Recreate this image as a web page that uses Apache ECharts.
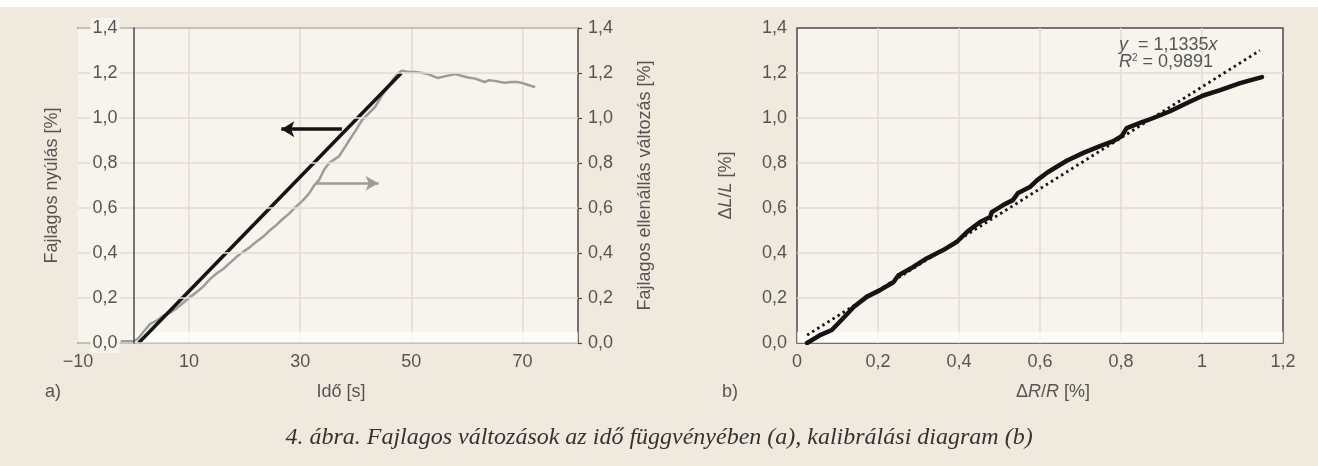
<!DOCTYPE html>
<html><head><meta charset="utf-8">
<script src="https://cdn.jsdelivr.net/npm/echarts@6/dist/echarts.min.js"></script>
<style>html,body{margin:0;padding:0;background:#f0e9de}#c{width:1318px;height:466px}</style>
</head><body><div id="c"></div>
<script>
// ---- panel a) data ----
const timeBlack = [0.9, 48.2];
const strainBlack = [0, 1.2];
const timeGray = [-2.3,-1,0,0.8,1.8,3.0,4.2,5.4,6.6,7.8,9.0,10.2,11.3,12.5,13.8,15.0,16.2,17.3,18.5,19.7,20.9,22.1,23.3,24.5,25.6,26.8,28.0,29.2,30.4,31.6,32.5,33.4,34.3,35.2,36.1,37.0,37.9,38.8,40.0,41.1,42.3,43.5,44.7,45.9,46.8,47.7,48.3,49.5,50.7,52,53,54,54.8,56,57.9,59,60.2,61.5,62.3,63.2,64,65,66,66.8,68,69.1,70,70.9,71.6,72.3];
const resistGray = [0.008,0.008,0.008,0.02,0.05,0.085,0.10,0.122,0.135,0.155,0.18,0.205,0.225,0.25,0.285,0.31,0.33,0.355,0.382,0.405,0.425,0.45,0.472,0.50,0.522,0.55,0.575,0.605,0.632,0.665,0.70,0.725,0.77,0.80,0.815,0.83,0.865,0.90,0.945,0.99,1.02,1.05,1.10,1.14,1.175,1.20,1.21,1.205,1.205,1.20,1.195,1.185,1.178,1.185,1.195,1.188,1.18,1.175,1.168,1.16,1.168,1.165,1.16,1.157,1.16,1.16,1.155,1.148,1.142,1.138];
const arrowBlack = [[37.5, 0.95], [26.6, 0.95]];
const arrowGray = [[32.9, 0.71], [44.1, 0.71]];
const xTicksA = {'-10':'\u221210','10':'10','30':'30','50':'50','70':'70'};
const yTicks = {'0':'0,0','0.2':'0,2','0.4':'0,4','0.6':'0,6','0.8':'0,8','1':'1,0','1.2':'1,2','1.4':'1,4'};

// ---- panel b) data ----
const calibX = [0.025,0.057,0.086,0.114,0.14,0.172,0.205,0.238,0.25,0.286,0.32,0.361,0.395,0.42,0.452,0.477,0.481,0.509,0.533,0.546,0.575,0.593,0.62,0.666,0.707,0.748,0.781,0.802,0.814,0.847,0.88,0.921,0.963,1.003,1.045,1.094,1.148];
const calibY = [0.0,0.035,0.058,0.11,0.16,0.205,0.235,0.27,0.30,0.337,0.376,0.413,0.45,0.494,0.538,0.56,0.582,0.613,0.635,0.667,0.693,0.724,0.76,0.81,0.845,0.875,0.897,0.92,0.955,0.978,1.0,1.03,1.067,1.10,1.124,1.155,1.182];
const trendX = [0.025, 1.143];
const trendY = [0.035, 1.30];
const xTicksB = {'0':'0','0.2':'0,2','0.4':'0,4','0.6':'0,6','0.8':'0,8','1':'1','1.2':'1,2'};

const zip = (a, b) => a.map((v, i) => [v, b[i]]);
const key = v => String(Math.round(v * 1000) / 1000);
const FONT = "Liberation Sans, Arial, sans-serif";
const TXT = '#555';
const AX = '#4a4a4a';
const GRIDC = '#e1dcd3';
const PLOT = '#f7f4ee';
const BAND = 'rgba(255,255,255,0.7)';
const FS = 18;

// left panel geometry: x range -10..80, y axis drawn at x = 0
const A_LEFT = 78, A_WIDTH = 500, A_MIN = -10, A_MAX = 80;
const Y_AXIS_OFFSET = -(0 - A_MIN) / (A_MAX - A_MIN) * A_WIDTH;

const chart = echarts.init(document.getElementById('c'), null, {renderer: 'canvas'});
const splitL = {show: true, showMinLine: false, showMaxLine: false, lineStyle: {color: GRIDC, width: 1.5}};
const italicRich = {i: {fontStyle: 'italic', fontSize: FS, color: TXT, fontFamily: FONT}};

chart.setOption({
  animation: false,
  backgroundColor: '#f0e9de',
  textStyle: {fontFamily: FONT},
  grid: [
    {left: A_LEFT, top: 28, width: A_WIDTH, height: 315, show: true, backgroundColor: PLOT, borderWidth: 0,
     containLabel: false, outerBoundsMode: 'none'},
    {left: 797, top: 28, width: 486, height: 315, show: true, backgroundColor: PLOT, borderColor: AX, borderWidth: 1.5,
     containLabel: false, outerBoundsMode: 'none'}
  ],
  xAxis: [
    {gridIndex: 0, type: 'value', min: A_MIN, max: A_MAX, interval: 20,
     axisLine: {onZero: false, lineStyle: {color: AX, width: 1.5}}, axisTick: {show: false},
     splitLine: splitL,
     axisLabel: {color: TXT, fontSize: FS, margin: 10, showMaxLabel: false, formatter: v => xTicksA[key(v)] || ''},
     name: '{n|Idő [s]}', nameLocation: 'middle', nameGap: 40,
     nameTextStyle: {color: TXT, fontSize: FS, rich: {n: {fontSize: FS, color: TXT, fontFamily: FONT, padding: [0, 0, 0, 26]}}}},
    {gridIndex: 0, type: 'value', position: 'top', min: A_MIN, max: A_MAX,
     axisLine: {onZero: false, lineStyle: {color: AX, width: 1.5}}, axisTick: {show: false},
     axisLabel: {show: false}, splitLine: {show: false}},
    {gridIndex: 1, type: 'value', min: 0, max: 1.2, interval: 0.2,
     axisLine: {show: false, onZero: false}, axisTick: {show: false},
     splitLine: splitL,
     axisLabel: {color: TXT, fontSize: FS, margin: 10, formatter: v => xTicksB[key(v)] || ''},
     name: 'Δ{i|R}/{i|R} [%]', nameLocation: 'middle', nameGap: 40,
     nameTextStyle: {color: TXT, fontSize: FS, padding: [0, 0, 0, 26], rich: italicRich}}
  ],
  yAxis: [
    {gridIndex: 0, type: 'value', min: 0, max: 1.4, interval: 0.2, position: 'left', offset: Y_AXIS_OFFSET, z: 5,
     axisLine: {show: true, onZero: false, lineStyle: {color: AX, width: 1.5}}, axisTick: {show: false},
     splitLine: {show: true, lineStyle: {color: GRIDC, width: 1.5}},
     axisLabel: {color: TXT, fontSize: FS, margin: 14, backgroundColor: PLOT, padding: [1, 2, 1, 2],
                 formatter: v => yTicks[key(v)] || ''},
     name: 'Fajlagos nyúlás [%]', nameLocation: 'middle', nameGap: 73, nameRotate: 90,
     nameTextStyle: {color: TXT, fontSize: FS}},
    {gridIndex: 0, type: 'value', min: 0, max: 1.4, interval: 0.2, position: 'right',
     axisLine: {show: true, onZero: false, lineStyle: {color: AX, width: 1.5}},
     axisTick: {show: true, length: 4, lineStyle: {color: AX, width: 1.2}},
     splitLine: {show: false},
     axisLabel: {color: TXT, fontSize: FS, margin: 10, formatter: v => yTicks[key(v)] || ''},
     name: 'Fajlagos ellenállás változás [%]', nameLocation: 'middle', nameGap: 58, nameRotate: 90,
     nameTextStyle: {color: TXT, fontSize: FS}},
    {gridIndex: 1, type: 'value', min: 0, max: 1.4, interval: 0.2,
     axisLine: {show: false, onZero: false}, axisTick: {show: false},
     splitLine: splitL,
     axisLabel: {color: TXT, fontSize: FS, margin: 10, formatter: v => yTicks[key(v)] || ''},
     name: 'Δ{i|L}/{i|L} [%]', nameLocation: 'middle', nameGap: 62, nameRotate: 90,
     nameTextStyle: {color: TXT, fontSize: FS, rich: italicRich}}
  ],
  series: [
    {type: 'line', xAxisIndex: 0, yAxisIndex: 1, data: zip(timeGray, resistGray), symbol: 'none',
     lineStyle: {color: '#9c9c9c', width: 2.5}, z: 2,
     markArea: {silent: true, itemStyle: {color: BAND}, data: [[{xAxis: 0, yAxis: 0}, {xAxis: A_MAX, yAxis: 0.05}]]},
     markLine: {silent: true, symbol: ['none', 'arrow'], symbolSize: [11, 13], animation: false,
       lineStyle: {color: '#9c9c9c', width: 2.5, type: 'solid'}, label: {show: false},
       data: [[{coord: arrowGray[0]}, {coord: arrowGray[1]}]]}},
    {type: 'line', xAxisIndex: 0, yAxisIndex: 0, data: zip(timeBlack, strainBlack), symbol: 'none',
     lineStyle: {color: '#141414', width: 3.5}, z: 3,
     markLine: {silent: true, symbol: ['none', 'arrow'], symbolSize: [12, 13], animation: false,
       lineStyle: {color: '#141414', width: 3.5, type: 'solid'}, label: {show: false},
       data: [[{coord: arrowBlack[0]}, {coord: arrowBlack[1]}]]}},
    {type: 'line', xAxisIndex: 2, yAxisIndex: 2, data: zip(trendX, trendY), symbol: 'none',
     lineStyle: {color: '#141414', width: 2.8, type: [2.5, 3.5]}, z: 2,
     markArea: {silent: true, itemStyle: {color: BAND}, data: [[{yAxis: 0}, {yAxis: 0.05}]]}},
    {type: 'line', xAxisIndex: 2, yAxisIndex: 2, data: zip(calibX, calibY), symbol: 'none',
     lineStyle: {color: '#141414', width: 4.5, join: 'round', cap: 'round'}, z: 3}
  ],
  graphic: [
    {type: 'rect', left: 0, top: 0, shape: {width: 1318, height: 7}, style: {fill: '#ffffff'}, silent: true},
    {type: 'text', left: 1119, top: 36, z: 10, style: {
      text: '{i|y}  = 1,1335{i|x}\n{i|R}{s|2} = 0,9891',
      fontSize: FS, fontFamily: FONT, fill: TXT, lineHeight: 17,
      rich: {i: {fontStyle: 'italic', fontSize: FS, fill: TXT, fontFamily: FONT, lineHeight: 17},
             s: {fontSize: 10, fill: TXT, fontFamily: FONT, verticalAlign: 'top', lineHeight: 17}}}},
    {type: 'text', left: 45, top: 383, style: {text: 'a)', fontSize: FS, fontFamily: FONT, fill: TXT}},
    {type: 'text', left: 722, top: 383, style: {text: 'b)', fontSize: FS, fontFamily: FONT, fill: TXT}},
    {type: 'text', x: 659, y: 438, style: {
      text: '4. ábra. Fajlagos változások az idő függvényében (a), kalibrálási diagram (b)',
      fontSize: 24, fontStyle: 'italic', fontFamily: 'Liberation Serif, serif', fill: '#333',
      align: 'center', verticalAlign: 'middle'}}
  ]
});
</script></body></html>
